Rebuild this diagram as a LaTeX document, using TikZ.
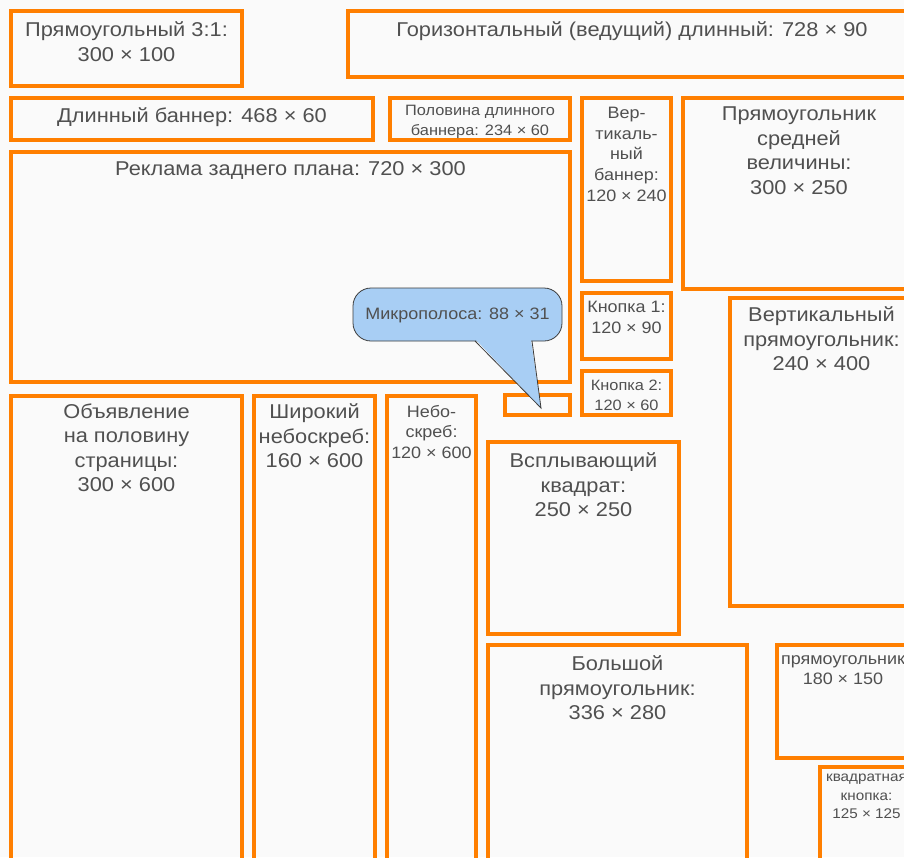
\documentclass[tikz,border=0pt]{standalone}
\usepackage{fontspec}
\setmainfont{Liberation Sans}[FakeStretch=1.09]
\usetikzlibrary{positioning}
\definecolor{adorange}{HTML}{FF7F00}
\definecolor{adgray}{HTML}{505050}
\definecolor{paper}{HTML}{FAFAFA}
\definecolor{tipblue}{HTML}{A8CEF4}
\definecolor{tipline}{HTML}{3C3C3C}

\begin{document}
\begin{tikzpicture}[
  x=1pt, y=-1pt,
  adbox/.style={draw=adorange, line width=3.5pt, rectangle, anchor=north west,
                inner sep=0pt, outer sep=0pt},
  txt/.style={text=adgray, align=center, inner sep=0pt},
  bigtxt/.style={txt, font=\fontsize{20}{24.5}\selectfont},
  midtxt/.style={txt, font=\fontsize{16.5}{20.8}\selectfont},
  smalltxt/.style={txt, font=\fontsize{15}{20}\selectfont},
  tinytxt/.style={txt, font=\fontsize{14}{18.5}\selectfont},
  bubble/.style={fill=tipblue, draw=tipline, line width=0.8pt}
]

  \useasboundingbox (0,0) rectangle (904,857);
  \clip (0,0) rectangle (904,857);
  \fill[paper] (0,0) rectangle (904,857);

  % top rows
  \node[adbox, minimum width=231, minimum height=75]  (sq31)    at (11,11)   {};
  \node[adbox, minimum width=568, minimum height=66]  (leader)  at (348,11)  {};
  \node[adbox, minimum width=362, minimum height=42]  (banner)  at (11,98)   {};
  \node[adbox, minimum width=180, minimum height=42]  (halfban) at (390,98)  {};
  \node[adbox, minimum width=89,  minimum height=183] (vban)    at (582,98)  {};
  \node[adbox, minimum width=232, minimum height=191] (medrect) at (683,98)  {};
  % middle
  \node[adbox, minimum width=559, minimum height=230] (backad)  at (11,152)  {};
  \node[adbox, minimum width=89,  minimum height=66]  (btnone)  at (582,293) {};
  \node[adbox, minimum width=89,  minimum height=44]  (btntwo)  at (582,371) {};
  \node[adbox, minimum width=183, minimum height=308] (vrect)   at (730,298) {};
  \node[adbox, minimum width=65,  minimum height=20]  (micro)   at (505,395) {};
  % bottom
  \node[adbox, minimum width=231, minimum height=479] (halfpage) at (11,396)  {};
  \node[adbox, minimum width=121, minimum height=479] (widesky)  at (254,396) {};
  \node[adbox, minimum width=89,  minimum height=479] (sky)      at (387,396) {};
  \node[adbox, minimum width=191, minimum height=192] (popup)    at (488,442) {};
  \node[adbox, minimum width=259, minimum height=230] (bigrect)  at (488,645) {};
  \node[adbox, minimum width=132, minimum height=113] (smrect)   at (777,645) {};
  \node[adbox, minimum width=93,  minimum height=108] (sqbtn)    at (820,767) {};

  % captions
  \node[bigtxt, below=10.6pt of sq31.north]    (sq31txt)    {Прямоугольный 3:1:\\300 × 100};
  \node[bigtxt, below=10.6pt of leader.north]  (leadertxt)  {Горизонтальный (ведущий) длинный: 728 × 90};
  \node[bigtxt, below=9.6pt of banner.north]   (bannertxt)  {Длинный баннер: 468 × 60};
  \node[smalltxt, below=7.4pt of halfban.north] (halfbantxt) {Половина длинного\\баннера: 234 × 60};
  \node[midtxt, below=8.8pt of vban.north]     (vbantxt)    {Вер-\\тикаль-\\ный\\баннер:\\120 × 240};
  \node[bigtxt, below=8.6pt of medrect.north]  (medrecttxt) {Прямоугольник\\средней\\величины:\\300 × 250};
  \node[bigtxt, below=9.6pt of backad.north]   (backadtxt)  {Реклама заднего плана: 720 × 300};
  \node[midtxt, below=7.8pt of btnone.north]   (btnonetxt)  {Кнопка 1:\\120 × 90};
  \node[smalltxt, below=8.4pt of btntwo.north] (btntwotxt)  {Кнопка 2:\\120 × 60};
  \node[bigtxt, below=8.6pt of vrect.north]    (vrecttxt)   {Вертикальный\\прямоугольник:\\240 × 400};
  \node[bigtxt, below=7.6pt of halfpage.north] (halfpagetxt) {Объявление\\на половину\\страницы:\\300 × 600};
  \node[bigtxt, below=7.6pt of widesky.north]  (wideskytxt) {Широкий\\небоскреб:\\160 × 600};
  \node[midtxt, below=8.8pt of sky.north]      (skytxt)     {Небо-\\скреб:\\120 × 600};
  \node[bigtxt, below=10.6pt of popup.north]   (popuptxt)   {Всплывающий\\квадрат:\\250 × 250};
  \node[bigtxt, below=10.6pt of bigrect.north] (bigrecttxt) {Большой\\прямоугольник:\\336 × 280};
  \node[midtxt, below=10pt of smrect.north]    (smrecttxt)  {прямоугольник\\180 × 150};
  \node[tinytxt, below=6.8pt of sqbtn.north]   (sqbtntxt)   {квадратная\\кнопка:\\125 × 125};

  % callout for the micro bar
  \coordinate (microtip) at (541,408);
  \draw[bubble, rounded corners=18pt] (353,288) rectangle (562,341);
  \fill[tipblue] (476,340) -- (microtip) -- (531,340) -- cycle;
  \draw[tipline, line width=0.8pt, line join=miter] (475,341) -- (microtip) -- (532,341);
  \node[midtxt] (microtxt) at (457.5,315) {Микрополоса: 88 × 31};

\end{tikzpicture}
\end{document}
